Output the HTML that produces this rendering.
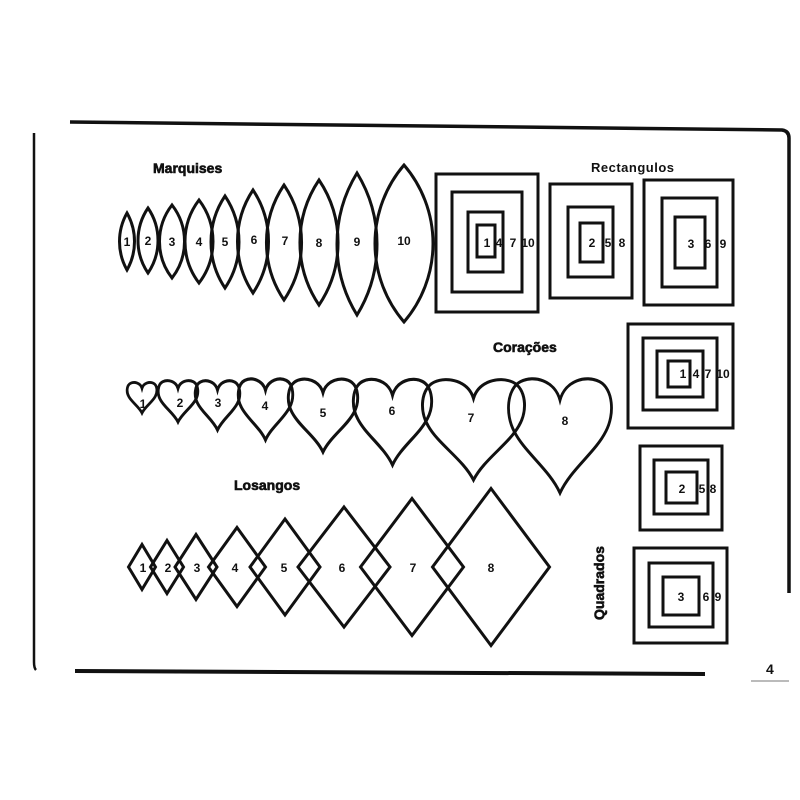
<!DOCTYPE html>
<html><head><meta charset="utf-8"><style>
html,body{margin:0;padding:0;background:#fff;}
svg{display:block;}
text{font-family:"Liberation Sans",sans-serif;fill:#111;}
.n{font-size:12px;font-weight:bold;text-anchor:middle;}
.t{font-size:14px;font-weight:bold;}
</style></head><body>
<svg width="800" height="800" viewBox="0 0 800 800" xmlns="http://www.w3.org/2000/svg">
<defs>
<path id="h" d="M50,20 C45,3 25,-2 12,4 C-1,10 -3,32 6,47 C16,65 40,80 50,100 C60,80 84,65 94,47 C103,32 101,10 88,4 C75,-2 55,3 50,20Z"/>
</defs>
<g fill="none" stroke="#111" stroke-width="3">
<!-- borders -->
<path d="M70,122 L782,130 Q789,131 789,138 L789,593" stroke-width="3.5"/>
<path d="M34,133 L34,662 Q34,668 36,670" stroke-width="2.5"/>
<path d="M75,671 L705,674" stroke-width="4"/>
<!-- marquises -->
<path d="M127,213 A57.9 57.9 0 0 1 127,270 A57.9 57.9 0 0 1 127,213Z"/>
<path d="M148,208 A57.8 57.8 0 0 1 148,273 A57.8 57.8 0 0 1 148,208Z"/>
<path d="M172,205 A59.5 59.5 0 0 1 172,278 A59.5 59.5 0 0 1 172,205Z"/>
<path d="M199,200 A68.5 68.5 0 0 1 199,283 A68.5 68.5 0 0 1 199,200Z"/>
<path d="M225,196 A82.6 82.6 0 0 1 225,288 A82.6 82.6 0 0 1 225,196Z"/>
<path d="M253,190 A93.3 93.3 0 0 1 253,293 A93.3 93.3 0 0 1 253,190Z"/>
<path d="M284,185 A103 103 0 0 1 284,300 A103 103 0 0 1 284,185Z"/>
<path d="M319,180 A112 112 0 0 1 319,305 A112 112 0 0 1 319,180Z"/>
<path d="M357,173 A136 136 0 0 1 357,315 A136 136 0 0 1 357,173Z"/>
<path d="M404,165 A120.7 120.7 0 0 1 404,322 A120.7 120.7 0 0 1 404,165Z"/>
<!-- rectangles -->
<rect x="436" y="174" width="102" height="138"/>
<rect x="452" y="192" width="70" height="100"/>
<rect x="468" y="212" width="35" height="60"/>
<rect x="477" y="225" width="18" height="32"/>
<rect x="550" y="184" width="82" height="114"/>
<rect x="568" y="207" width="45" height="70"/>
<rect x="580" y="223" width="23" height="39"/>
<rect x="644" y="180" width="89" height="125"/>
<rect x="662" y="198" width="55" height="89"/>
<rect x="675" y="217" width="30" height="51"/>
<!-- squares -->
<rect x="628" y="324" width="105" height="104"/>
<rect x="643" y="338" width="74" height="72"/>
<rect x="657" y="351" width="46" height="46"/>
<rect x="668" y="361" width="22" height="26"/>
<rect x="640" y="446" width="82" height="84"/>
<rect x="654" y="460" width="54" height="54"/>
<rect x="666" y="472" width="31" height="31"/>
<rect x="634" y="548" width="93" height="95"/>
<rect x="649" y="563" width="64" height="64"/>
<rect x="663" y="577" width="36" height="38"/>
<!-- diamonds -->
<path d="M142,544.5 L155.5,567 L142,589.5 L128.5,567Z"/>
<path d="M167,540.5 L183.5,567 L167,593.5 L150.5,567Z"/>
<path d="M196,534.5 L217,567 L196,599.5 L175,567Z"/>
<path d="M237,527.5 L265.5,567 L237,606.5 L208.5,567Z"/>
<path d="M285,519 L320,567 L285,615 L250,567Z"/>
<path d="M344,507 L390,567 L344,627 L298,567Z"/>
<path d="M412,498.5 L463.5,567 L412,635.5 L360.5,567Z"/>
<path d="M491,488.5 L549.5,567 L491,645.5 L432.5,567Z"/>
</g>
<!-- hearts -->
<g fill="none" stroke="#111">
<use href="#h" transform="translate(127,382) scale(0.30,0.31)" stroke-width="9"/>
<use href="#h" transform="translate(158,380) scale(0.40,0.42)" stroke-width="7"/>
<use href="#h" transform="translate(195,380) scale(0.45,0.50)" stroke-width="6.3"/>
<use href="#h" transform="translate(238,378) scale(0.55,0.62)" stroke-width="5.2"/>
<use href="#h" transform="translate(288,378) scale(0.70,0.74)" stroke-width="4.2"/>
<use href="#h" transform="translate(353,378) scale(0.79,0.87)" stroke-width="3.7"/>
<use href="#h" transform="translate(422,378) scale(1.03,1.02)" stroke-width="2.9"/>
<use href="#h" transform="translate(508,377) scale(1.04,1.16)" stroke-width="2.7"/>
</g>
<!-- titles -->
<text class="t" x="153" y="173" style="font-weight:900;stroke:#111;stroke-width:0.6">Marquises</text>
<text class="t" x="591" y="172" style="font-size:13px;letter-spacing:0.5px">Rectangulos</text>
<text class="t" x="493" y="352" style="stroke:#111;stroke-width:0.6">Corações</text>
<text class="t" x="234" y="490" style="stroke:#111;stroke-width:0.6">Losangos</text>
<text class="t" transform="translate(604,620) rotate(-90)" style="stroke:#111;stroke-width:0.6">Quadrados</text>
<text class="t" x="766" y="674" style="font-size:14px">4</text>
<line x1="751" y1="681" x2="789" y2="681" stroke="#777" stroke-width="1"/>
<g class="n">
<text class="n" x="127" y="246">1</text>
<text class="n" x="148" y="245">2</text>
<text class="n" x="172" y="246">3</text>
<text class="n" x="199" y="246">4</text>
<text class="n" x="225" y="246">5</text>
<text class="n" x="254" y="244">6</text>
<text class="n" x="285" y="245">7</text>
<text class="n" x="319" y="247">8</text>
<text class="n" x="357" y="246">9</text>
<text class="n" x="404" y="245">10</text>
<text class="n" x="487" y="247">1</text>
<text class="n" x="499" y="247">4</text>
<text class="n" x="513" y="247">7</text>
<text class="n" x="528" y="247">10</text>
<text class="n" x="592" y="247">2</text>
<text class="n" x="608" y="247">5</text>
<text class="n" x="622" y="247">8</text>
<text class="n" x="691" y="248">3</text>
<text class="n" x="708" y="248">6</text>
<text class="n" x="723" y="248">9</text>
<text class="n" x="683" y="378">1</text>
<text class="n" x="696" y="378">4</text>
<text class="n" x="708" y="378">7</text>
<text class="n" x="723" y="378">10</text>
<text class="n" x="682" y="493">2</text>
<text class="n" x="702" y="493">5</text>
<text class="n" x="713" y="493">8</text>
<text class="n" x="681" y="601">3</text>
<text class="n" x="706" y="601">6</text>
<text class="n" x="718" y="601">9</text>
<text class="n" x="143" y="408">1</text>
<text class="n" x="180" y="407">2</text>
<text class="n" x="218" y="407">3</text>
<text class="n" x="265" y="410">4</text>
<text class="n" x="323" y="417">5</text>
<text class="n" x="392" y="415">6</text>
<text class="n" x="471" y="422">7</text>
<text class="n" x="565" y="425">8</text>
<text class="n" x="143" y="572">1</text>
<text class="n" x="168" y="572">2</text>
<text class="n" x="197" y="572">3</text>
<text class="n" x="235" y="572">4</text>
<text class="n" x="284" y="572">5</text>
<text class="n" x="342" y="572">6</text>
<text class="n" x="413" y="572">7</text>
<text class="n" x="491" y="572">8</text>
</g>
</svg>
</body></html>
